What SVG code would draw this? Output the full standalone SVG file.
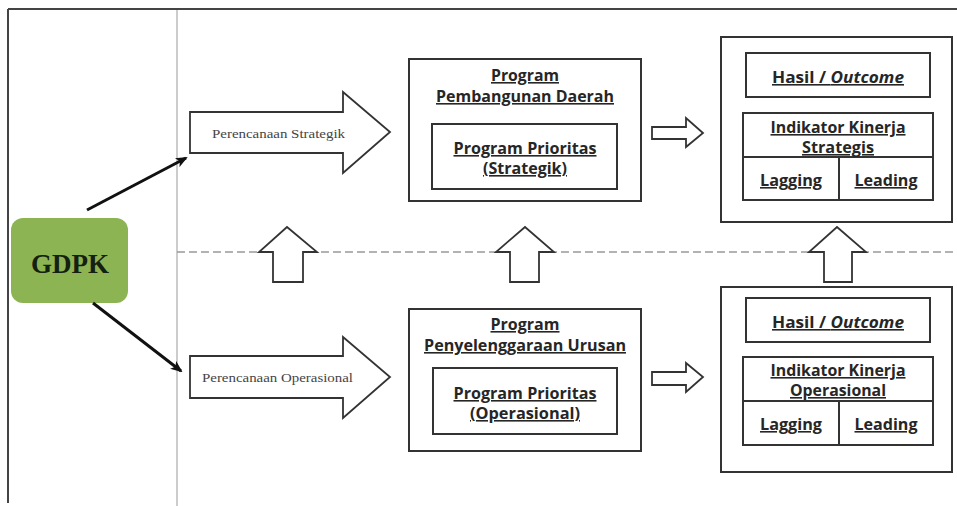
<svg xmlns="http://www.w3.org/2000/svg" width="957" height="506" viewBox="0 0 957 506">
<defs>
<marker id="ah" markerWidth="12" markerHeight="10" refX="10" refY="5" orient="auto" markerUnits="userSpaceOnUse">
<path d="M0,0 L12,5 L0,10 L3,5 Z" fill="#111"/>
</marker>
<style>
.box{fill:#fff;stroke:#333;stroke-width:2}
.blk{fill:#fff;stroke:#333;stroke-width:1.8;stroke-linejoin:miter}
.lbl{font-family:"Open Sans","Liberation Sans",sans-serif;font-weight:bold;font-size:16px;fill:#262626;text-anchor:middle;text-decoration:underline}
.ser{font-family:"Liberation Serif",serif;font-size:11.5px;fill:#444}
.conn{stroke:#111;stroke-width:3;fill:none}
</style>
</defs>
<rect x="0" y="0" width="957" height="506" fill="#fff"/>
<g id="frame">
<line x1="8" y1="9" x2="957" y2="9" stroke="#444" stroke-width="2"/>
<line x1="8" y1="9" x2="8" y2="503" stroke="#444" stroke-width="2"/>
<line x1="177" y1="10" x2="177" y2="506" stroke="#bbb" stroke-width="1.5"/>
<line x1="177" y1="252" x2="957" y2="252" stroke="#999" stroke-width="1.5" stroke-dasharray="8,4"/>
</g>
<g id="gdpk">
<rect x="11" y="218" width="117" height="85" rx="12" fill="#8db453"/>
<text x="70" y="273" text-anchor="middle" font-family="Liberation Serif,serif" font-weight="bold" font-size="27" fill="#142010">GDPK</text>
</g>
<g id="connectors">
<line class="conn" x1="87" y1="210" x2="186" y2="158" marker-end="url(#ah)"/>
<line class="conn" x1="93" y1="303" x2="181" y2="371" marker-end="url(#ah)"/>
</g>
<g id="perencanaan-strategik">
<polygon class="blk" points="190,112 343,112 343,92 390,132 343,173 343,153 190,153"/>
<text class="ser" x="212" y="138" textLength="133" lengthAdjust="spacingAndGlyphs">Perencanaan  Strategik</text>
</g>
<g id="perencanaan-operasional">
<polygon class="blk" points="190,356 343,356 343,337 390,377 343,418 343,398 190,398"/>
<text class="ser" x="202" y="382" textLength="151" lengthAdjust="spacingAndGlyphs">Perencanaan  Operasional</text>
</g>
<g id="program-pembangunan">
<rect class="box" x="409" y="59" width="232" height="142"/>
<text class="lbl" x="525" y="81" textLength="68" lengthAdjust="spacingAndGlyphs">Program</text>
<text class="lbl" x="525" y="102" textLength="178" lengthAdjust="spacingAndGlyphs">Pembangunan Daerah</text>
<rect class="box" x="432" y="124" width="185" height="65"/>
<text class="lbl" x="525" y="154" textLength="143" lengthAdjust="spacingAndGlyphs">Program Prioritas</text>
<text class="lbl" x="525" y="174" textLength="84" lengthAdjust="spacingAndGlyphs">(Strategik)</text>
</g>
<g id="program-penyelenggaraan">
<rect class="box" x="409" y="309" width="232" height="142"/>
<text class="lbl" x="525" y="330" textLength="69" lengthAdjust="spacingAndGlyphs">Program</text>
<text class="lbl" x="525" y="351" textLength="202" lengthAdjust="spacingAndGlyphs">Penyelenggaraan Urusan</text>
<rect class="box" x="433" y="368" width="184" height="66"/>
<text class="lbl" x="525" y="399" textLength="143" lengthAdjust="spacingAndGlyphs">Program Prioritas</text>
<text class="lbl" x="525" y="419" textLength="110" lengthAdjust="spacingAndGlyphs">(Operasional)</text>
</g>
<g id="arrows-small">
<polygon class="blk" points="652,127 686,127 686,118 703,133 686,147 686,139 652,139"/>
<polygon class="blk" points="652,372 686,372 686,363 703,377 686,392 686,385 652,385"/>
<polygon class="blk" points="273,282 273,252 259,252 287,227 317,252 303,252 303,282"/>
<polygon class="blk" points="510,282 510,252 496,252 525,227 554,252 539,252 539,282"/>
<polygon class="blk" points="824,282 824,252 809,252 837,227 866,252 852,252 852,282"/>
</g>
<g id="hasil-strategis">
<rect class="box" x="721" y="37" width="231" height="185"/>
<rect class="box" x="746" y="53" width="184" height="44"/>
<text class="lbl" x="838" y="83" textLength="132" lengthAdjust="spacingAndGlyphs">Hasil / <tspan font-style="italic">Outcome</tspan></text>
<rect class="box" x="743" y="113" width="190" height="87"/>
<line x1="743" y1="157" x2="933" y2="157" stroke="#333" stroke-width="2"/>
<line x1="839" y1="157" x2="839" y2="200" stroke="#333" stroke-width="2"/>
<text class="lbl" x="838" y="133" textLength="135" lengthAdjust="spacingAndGlyphs">Indikator Kinerja</text>
<text class="lbl" x="838" y="153" textLength="72" lengthAdjust="spacingAndGlyphs">Strategis</text>
<text class="lbl" x="791" y="186" textLength="62" lengthAdjust="spacingAndGlyphs">Lagging</text>
<text class="lbl" x="886" y="186" textLength="63" lengthAdjust="spacingAndGlyphs">Leading</text>
</g>
<g id="hasil-operasional">
<rect class="box" x="721" y="287" width="231" height="185"/>
<rect class="box" x="746" y="298" width="184" height="44"/>
<text class="lbl" x="838" y="328" textLength="132" lengthAdjust="spacingAndGlyphs">Hasil / <tspan font-style="italic">Outcome</tspan></text>
<rect class="box" x="743" y="357" width="190" height="88"/>
<line x1="743" y1="401" x2="933" y2="401" stroke="#333" stroke-width="2"/>
<line x1="839" y1="401" x2="839" y2="445" stroke="#333" stroke-width="2"/>
<text class="lbl" x="838" y="376" textLength="135" lengthAdjust="spacingAndGlyphs">Indikator Kinerja</text>
<text class="lbl" x="838" y="396" textLength="96" lengthAdjust="spacingAndGlyphs">Operasional</text>
<text class="lbl" x="791" y="430" textLength="62" lengthAdjust="spacingAndGlyphs">Lagging</text>
<text class="lbl" x="886" y="430" textLength="63" lengthAdjust="spacingAndGlyphs">Leading</text>
</g>
</svg>
